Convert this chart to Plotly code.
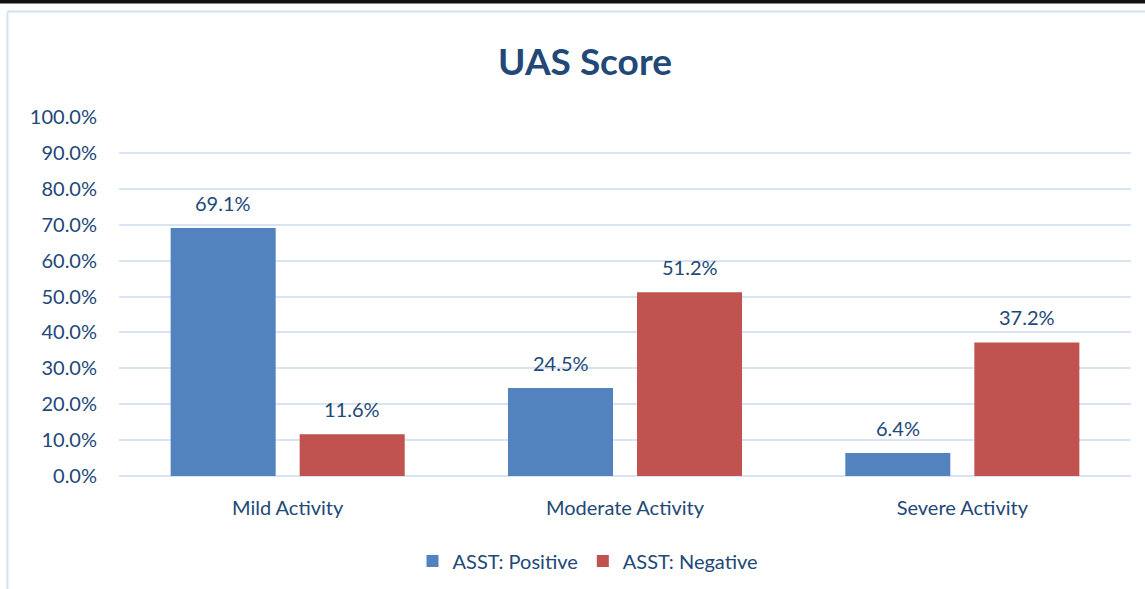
import plotly.graph_objects as go

categories = ["Mild Activity", "Moderate Activity", "Severe Activity"]
positive = [0.691, 0.245, 0.064]
negative = [0.116, 0.512, 0.372]
series_names = ["ASST: Positive", "ASST: Negative"]
tick_vals = [0.0, 0.1, 0.2, 0.3, 0.4, 0.5, 0.6, 0.7, 0.8, 0.9, 1.0]

W, H = 1145, 589
L, R, T, B = 119, 1131, 117, 476
PW, PH = R - L, B - T


def px_x(x):
    return (x - L) / PW


def px_y(y):
    return (B - y) / PH


TXT = "#224877"
FONT = "Lato"
FS = 20
BLUE = "#5383BF"
RED = "#C0534F"
GRID = "#D9E4F2"

fig = go.Figure()
fig.add_trace(go.Bar(x=categories, y=positive, name=series_names[0],
                     marker=dict(color=BLUE, line=dict(width=0))))
fig.add_trace(go.Bar(x=categories, y=negative, name=series_names[1],
                     marker=dict(color=RED, line=dict(width=0))))

annotations = []
for vals, shift in ((positive, -64.5), (negative, 64.5)):
    for c, v in zip(categories, vals):
        annotations.append(dict(x=c, y=v, xref="x", yref="y", text=f"{v*100:.1f}%",
                                showarrow=False, xshift=shift, yshift=25,
                                yanchor="middle", font=dict(family=FONT, size=FS, color=TXT)))

shapes = [
    # top dark rule
    dict(type="rect", xref="paper", yref="paper", x0=px_x(0), x1=px_x(W),
         y0=px_y(3.5), y1=px_y(0), fillcolor="#111111", line=dict(width=0), layer="above"),
    # light chart border (top)
    dict(type="line", xref="paper", yref="paper", x0=px_x(7.5), x1=px_x(W),
         y0=px_y(11.5), y1=px_y(11.5), line=dict(color="#D3E1F2", width=2)),
    # light chart border (left)
    dict(type="line", xref="paper", yref="paper", x0=px_x(7.5), x1=px_x(7.5),
         y0=px_y(11.5), y1=px_y(H), line=dict(color="#D3E1F2", width=2)),
]

fig.update_layout(
    width=W, height=H,
    autosize=False,
    margin=dict(l=L, r=W - R, t=T, b=H - B, autoexpand=False),
    paper_bgcolor="white", plot_bgcolor="white",
    barmode="group", bargap=0.235, bargroupgap=0.186,
    title=dict(text="<b>UAS Score</b>", x=585 / W, xref="container", xanchor="center",
               y=1 - 62 / H, yref="container", yanchor="middle",
               font=dict(family=FONT, size=37, color=TXT)),
    font=dict(family=FONT, size=FS, color=TXT),
    legend=dict(orientation="h", x=588 / W, xref="container", xanchor="center",
                y=px_y(561), yanchor="middle", itemwidth=30,
                font=dict(family=FONT, size=FS, color=TXT)),
    showlegend=True,
    annotations=annotations,
    shapes=shapes,
)
fig.update_xaxes(showgrid=False, showline=False, ticks="", ticklabelstandoff=18,
                 tickangle=0, automargin=False,
                 tickfont=dict(family=FONT, size=FS, color=TXT))
fig.update_yaxes(range=[0, 1], tickvals=tick_vals, tickformat=".1%", showgrid=True,
                 gridcolor=GRID, gridwidth=2, zeroline=True, zerolinecolor=GRID, zerolinewidth=2,
                 showline=False, ticks="", ticklabelstandoff=21, automargin=False,
                 tickfont=dict(family=FONT, size=FS, color=TXT))

fig.write_html("out.html", config={"displayModeBar": False},
               post_script="document.body.style.margin='0';")
